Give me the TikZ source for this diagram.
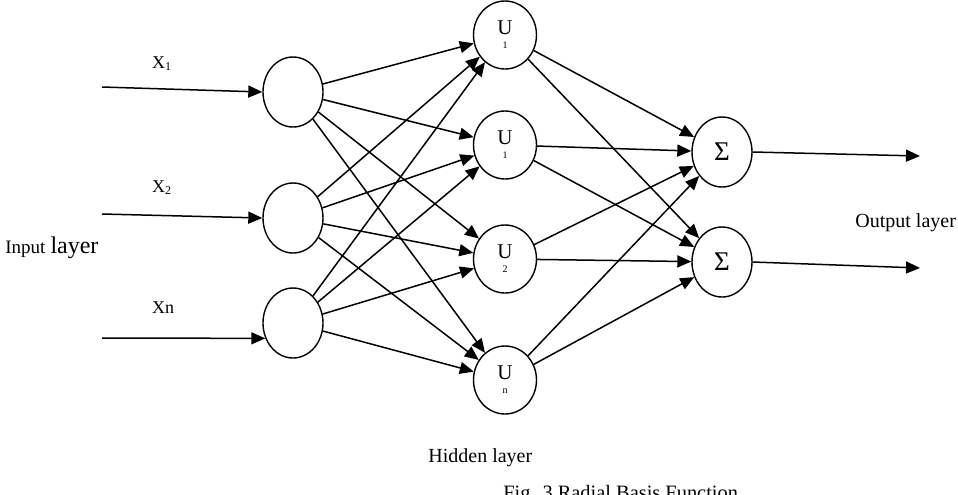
\documentclass[tikz,border=0pt]{standalone}
\usepackage{fontspec}
\setmainfont{Liberation Serif}
\usetikzlibrary{arrows.meta, shapes.geometric}

\tikzset{
  neuron/.style={draw, ellipse, line width=0.7pt, inner sep=0pt,
    minimum width=30pt, minimum height=35pt, align=center},
  arr/.style={line width=0.75pt, -{Triangle[length=7pt, width=6pt]}},
}

\begin{document}
\begin{tikzpicture}[x=0.5pt, y=-0.5pt]
  \useasboundingbox (0, 0) rectangle (958, 494);
  \clip (0, 0) rectangle (958, 494);

  % input layer
  \node[neuron] (in1) at (293, 92) {};
  \node[neuron] (in2) at (293, 218) {};
  \node[neuron] (in3) at (293, 323) {};

  % hidden layer (radial units)
  \node[neuron, minimum width=31.5pt, minimum height=34pt] (h1) at (505, 35)
    {\fontsize{10.5}{12}\selectfont U\\[-5pt]\fontsize{5}{6}\selectfont 1};
  \node[neuron, minimum width=31.5pt, minimum height=34pt] (h2) at (505, 145)
    {\fontsize{10.5}{12}\selectfont U\\[-5pt]\fontsize{5}{6}\selectfont 1};
  \node[neuron, minimum width=31.5pt, minimum height=34pt] (h3) at (505, 259)
    {\fontsize{10.5}{12}\selectfont U\\[-5pt]\fontsize{5}{6}\selectfont 2};
  \node[neuron, minimum width=31.5pt, minimum height=34pt] (h4) at (505, 380)
    {\fontsize{10.5}{12}\selectfont U\\[-5pt]\fontsize{5}{6}\selectfont n};

  % output layer
  \node[neuron] (out1) at (722, 152) {\fontsize{13.5}{15}\selectfont Σ};
  \node[neuron] (out2) at (722, 262) {\fontsize{13.5}{15}\selectfont Σ};

  % inputs
  \coordinate (s1) at (102, 87);
  \coordinate (s2) at (102, 214);
  \coordinate (s3) at (102, 338);
  \draw[arr] (s1) -- (in1.west);
  \draw[arr] (s2) -- (in2.west);
  \draw[arr] (s3) -- (in3.209);

  \foreach \i in {1,2,3}
    \foreach \j in {1,...,4}
      \draw[arr] (in\i) -- (h\j);
  \foreach \j in {1,...,4}
    \foreach \k in {1,2}
      \draw[arr] (h\j) -- (out\k);

  % outputs
  \coordinate (e1) at (920, 156);
  \coordinate (e2) at (920, 268);
  \draw[arr] (out1.east) -- (e1);
  \draw[arr] (out2.east) -- (e2);

  % labels
  \node[anchor=base west, font=\fontsize{9}{11}\selectfont] (x1) at (145, 68) {X\textsubscript{1}};
  \node[anchor=base west, font=\fontsize{9}{11}\selectfont] (x2) at (145, 192) {X\textsubscript{2}};
  \node[anchor=base west, font=\fontsize{9}{11}\selectfont] (xn) at (145, 313) {Xn};
  \node[anchor=base west, inner sep=0pt] (inlab) at (5, 253)
    {{\fontsize{9.5}{11}\selectfont Input} {\fontsize{12}{14}\selectfont layer}};
  \node[anchor=base west, inner sep=0pt, font=\fontsize{10}{12}\selectfont] (hidlab) at (428, 462) {Hidden layer};
  \node[anchor=base west, inner sep=0pt, font=\fontsize{10}{12}\selectfont] (outlab) at (855, 227) {Output layer};
  \node[anchor=base west, inner sep=0pt, font=\fontsize{10.2}{12}\selectfont] (cap) at (503, 499) {Fig. 3 Radial Basis Function};
\end{tikzpicture}
\end{document}
